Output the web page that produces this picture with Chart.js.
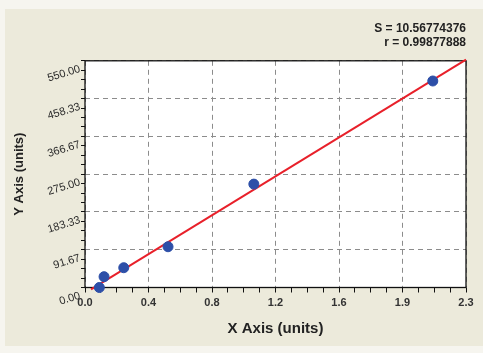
<!DOCTYPE html>
<html>
<head>
<meta charset="utf-8">
<script src="https://cdn.jsdelivr.net/npm/chart.js@4"></script>
<style>
  html, body { margin: 0; padding: 0; background: #f6f5ef; }
  #wrap { position: relative; width: 483px; height: 353px; }
</style>
</head>
<body>
<div id="wrap"><canvas id="chart"></canvas></div>
<script>
// measured points (x, y)
const sampleX = [0.088, 0.117, 0.238, 0.510, 1.037, 2.136];
const sampleY = [0, 26.2, 48.0, 98.9, 250.8, 501.0];

// fitted line ends
const fitX = [0.037, 2.34];
const fitY = [-4.4, 553];

// axes
const xMax = 2.34;
const yMax = 550;
const xTickLabels = ['0.0', '0.4', '0.8', '1.2', '1.6', '1.9', '2.3'];
const yTickLabels = ['0.00', '91.67', '183.33', '275.00', '366.67', '458.33', '550.00'];
const minorPerMajor = 4;

const statLines = ['S = 10.56774376', 'r = 0.99877888'];

Chart.defaults.font.family = '"Liberation Sans", Arial, sans-serif';

// major + minor tick values from the label counts
function tickValues(max, labels) {
    const n = (labels.length - 1) * minorPerMajor;
    const out = [];
    for (let i = 0; i <= n; i++) out.push({ value: max * i / n, major: i % minorPerMajor === 0 });
    return out;
}

const panelBg = {
    id: 'panelBg',
    beforeDraw(chart) {
        const { ctx, chartArea: a } = chart;
        ctx.save();
        ctx.fillStyle = '#eceadb';
        ctx.fillRect(5, 9, chart.width - 5, 337);
        ctx.fillStyle = '#ffffff';
        ctx.fillRect(a.left, a.top, a.right - a.left, a.bottom - a.top);
        ctx.restore();
    },
    beforeDatasetsDraw(chart) {
        const { ctx, chartArea: a } = chart;
        ctx.save();
        ctx.strokeStyle = '#111';
        ctx.lineWidth = 1.3;
        ctx.strokeRect(a.left, a.top, a.right - a.left, a.bottom - a.top);
        ctx.restore();
    }
};

const gridColor = c => (c.tick && c.tick.major) ? '#8c8c8c' : 'rgba(0,0,0,0)';

new Chart(document.getElementById('chart'), {
    type: 'scatter',
    data: {
        datasets: [
            {
                label: 'Samples',
                data: sampleX.map((x, i) => ({ x, y: sampleY[i] })),
                backgroundColor: '#2d4fa8',
                borderColor: '#2d4fa8',
                pointRadius: 5,
                clip: false,
                order: 0
            },
            {
                type: 'line',
                label: 'Fit',
                data: fitX.map((x, i) => ({ x, y: fitY[i] })),
                borderColor: '#e8202a',
                borderWidth: 2,
                pointRadius: 0,
                fill: false,
                clip: 4,
                order: 1
            }
        ]
    },
    options: {
        responsive: true,
        maintainAspectRatio: false,
        animation: false,
        layout: { padding: { left: 0, right: 17, top: 0, bottom: 0 } },
        plugins: {
            legend: { display: false },
            tooltip: { enabled: false },
            title: {
                display: true,
                text: statLines,
                align: 'end',
                color: '#222',
                font: { size: 12, weight: 'bold' },
                padding: { top: 21, bottom: 11 }
            }
        },
        scales: {
            x: {
                type: 'linear',
                min: 0,
                max: xMax,
                afterBuildTicks: s => { s.ticks = tickValues(xMax, xTickLabels); },
                afterFit: s => { s.height = 65.5; },
                grid: { color: gridColor, tickColor: '#111', tickLength: 5, lineWidth: 1 },
                border: { display: false, dash: [5, 4] },
                ticks: {
                    autoSkip: false,
                    maxRotation: 0,
                    padding: 4,
                    color: '#333',
                    font: { size: 11, weight: 'bold' },
                    callback: (v, i) => i % minorPerMajor === 0 ? xTickLabels[i / minorPerMajor] : ''
                },
                title: {
                    display: true,
                    text: 'X Axis (units)',
                    color: '#222',
                    font: { size: 15, weight: 'bold' },
                    padding: { top: 0, bottom: 15 }
                }
            },
            y: {
                type: 'linear',
                min: 0,
                max: yMax,
                afterBuildTicks: s => { s.ticks = tickValues(yMax, yTickLabels); },
                afterFit: s => { s.width = 85; },
                grid: { color: gridColor, tickColor: '#111', tickLength: 4, lineWidth: 1 },
                border: { display: false, dash: [5, 4] },
                ticks: {
                    autoSkip: false,
                    minRotation: 17,
                    maxRotation: 17,
                    padding: 1,
                    labelOffset: 8,
                    color: '#2a2a2a',
                    font: { size: 11 },
                    callback: (v, i) => i % minorPerMajor === 0 ? yTickLabels[i / minorPerMajor] : ''
                },
                title: {
                    display: true,
                    text: 'Y Axis (units)',
                    color: '#222',
                    font: { size: 13, weight: 'bold' },
                    padding: { top: 12, bottom: 0 }
                }
            }
        }
    },
    plugins: [panelBg]
});
</script>
</body>
</html>
